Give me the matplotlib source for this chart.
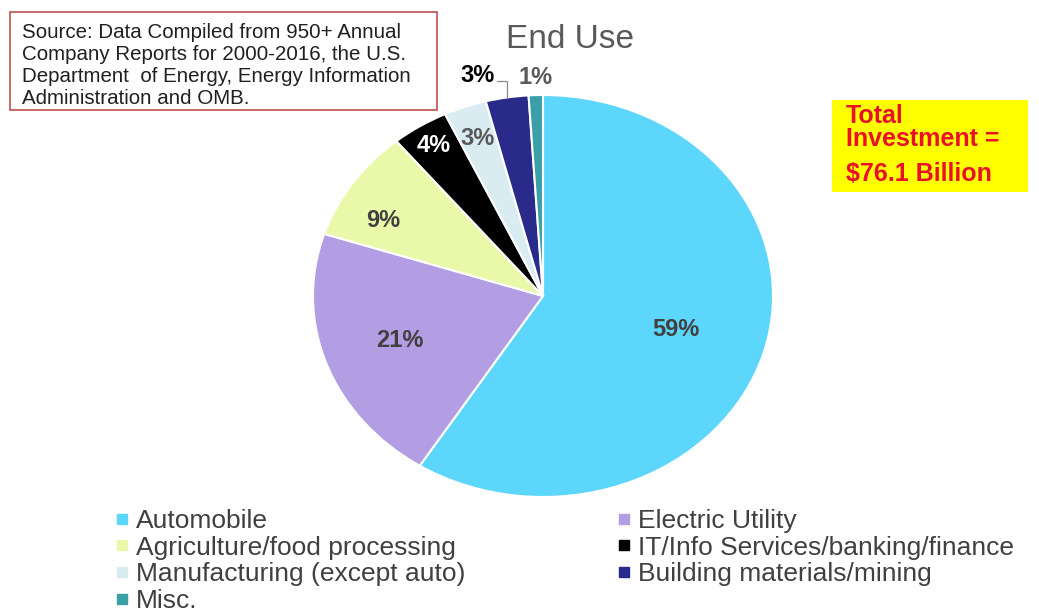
import numpy as np
import matplotlib
matplotlib.use("Agg")
import matplotlib.pyplot as plt
from matplotlib.lines import Line2D
from matplotlib.patches import Rectangle

plt.rcParams['font.family'] = ['Liberation Sans', 'DejaVu Sans']

categories = ["Automobile", "Electric Utility", "Agriculture/food processing",
              "IT/Info Services/banking/finance", "Manufacturing (except auto)",
              "Building materials/mining", "Misc."]
values = [59, 21, 9, 4, 3, 3, 1]
pct_labels = ["59%", "21%", "9%", "4%", "3%", "3%", "1%"]
colors = ["#5DD6FC", "#B39DE3", "#E9F8A9", "#000000", "#D8ECF1", "#2A2A8A", "#3A9FA6"]
label_colors = ["#404040", "#404040", "#404040", "#FFFFFF", "#595959", "#000000", "#595959"]
label_radius = [0.60, 0.66, 0.79, 0.886, 0.835, None, 1.09]
label_angle_offset = [0, 0, 6, 0, 0, 0, 0]

W, H = 1039, 616
fig = plt.figure(figsize=(W / 100, H / 100), dpi=100)

# pie axes, elliptical (stretched horizontally)
px0, px1, py0, py1 = 313, 773, 95, 497
ax = fig.add_axes([px0 / W, 1 - py1 / H, (px1 - px0) / W, (py1 - py0) / H])
wedges, _ = ax.pie(values, colors=colors, startangle=90, counterclock=False,
                   wedgeprops=dict(edgecolor="white", linewidth=1.5))
ax.set_aspect('auto')
ax.set_xlim(-1, 1)
ax.set_ylim(-1, 1)
ax.axis('off')

for i, w in enumerate(wedges):
    mid = np.deg2rad((w.theta1 + w.theta2) / 2 + label_angle_offset[i])
    if label_radius[i] is None:
        # outside label with leader line
        ex, ey = np.cos(mid), np.sin(mid)
        ly = 1.07
        ax.plot([ex, ex, ex - 0.045], [ey - 0.005, ly, ly], color="#8C8C8C",
                lw=0.9, clip_on=False)
        ax.text(ex - 0.055, ly + 0.025, pct_labels[i], ha='right', va='center',
                fontsize=17, fontweight='bold', color=label_colors[i])
    else:
        r = label_radius[i]
        ax.text(r * np.cos(mid), r * np.sin(mid), pct_labels[i], ha='center', va='center',
                fontsize=17, fontweight='bold', color=label_colors[i])

# title
fig.text(570 / W, 1 - 48 / H, "End Use", ha='center', va='baseline', fontsize=24, color="#595959")

# source box
fig.patches.append(Rectangle((10 / W, 1 - 110 / H), 427 / W, 98 / H, transform=fig.transFigure,
                             facecolor="white", edgecolor="#C0504D", lw=1.2))
source_lines = ["Source: Data Compiled from 950+ Annual",
                "Company Reports for 2000-2016, the U.S.",
                "Department  of Energy, Energy Information",
                "Administration and OMB."]
for k, line in enumerate(source_lines):
    fig.text(22 / W, 1 - (38 + 22 * k) / H, line, ha='left', va='baseline',
             fontsize=14.8, color="#202020")

# total investment box
fig.patches.append(Rectangle((832 / W, 1 - 192 / H), 196 / W, 92 / H, transform=fig.transFigure,
                             facecolor="#FFFF00", edgecolor="none"))
for txt, yb in [("Total", 123), ("Investment =", 146), ("$76.1 Billion", 181)]:
    fig.text(846 / W, 1 - yb / H, txt, ha='left', va='baseline', fontsize=18,
             fontweight='bold', color="#E8102A")

# legend (row-major order: reorder for column-major filling)
order = [0, 2, 4, 6, 1, 3, 5]
handles = [Line2D([], [], marker='s', linestyle='none', markersize=7,
                  markerfacecolor=colors[i], markeredgecolor=colors[i]) for i in order]
labels = [categories[i] for i in order]
fig.legend(handles, labels, ncol=2, loc='upper left', bbox_to_anchor=(115 / W, 1 - 509 / H),
           frameon=False, fontsize=19, labelcolor="#404040", handlelength=0.5,
           handletextpad=0.3, columnspacing=5.75, labelspacing=0.1, borderaxespad=0,
           borderpad=0)

fig.savefig("out.png", dpi=100, facecolor="white")
